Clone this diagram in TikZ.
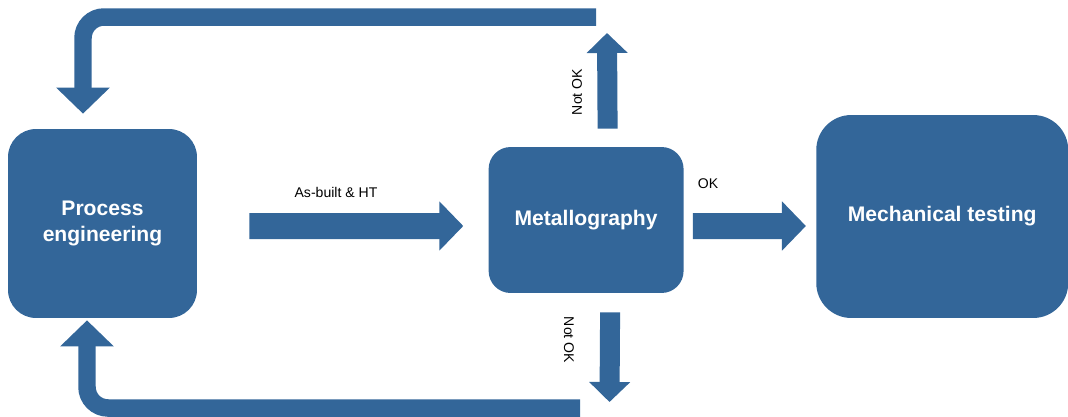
\documentclass[tikz,border=0pt]{standalone}
\usepackage{fontspec}
\setmainfont{Liberation Sans}
\usetikzlibrary{arrows.meta,positioning,calc}
\definecolor{steel}{HTML}{336699}
\tikzset{stage/.style={fill=steel,align=center,text=white,font=\bfseries\fontsize{12}{15.3}\selectfont,inner sep=0pt},fat/.style={-{Triangle[width=0.96cm,length=0.48cm]},line width=0.52cm,draw=steel},slim/.style={-{Triangle[width=0.8cm,length=0.4cm]},line width=0.4cm,draw=steel},backflow/.style={-{Triangle[width=1.04cm,length=0.52cm]},line width=0.35cm,draw=steel,rounded corners=0.42cm},flowlabel/.style={font=\fontsize{8}{10}\selectfont,inner sep=0pt}}

\begin{document}
\begin{tikzpicture}[x=0.02cm,y=-0.02cm]
\useasboundingbox (0,0) rectangle (1068,416);
\node[stage,minimum width=3.78cm,minimum height=3.78cm,rounded corners=0.56cm] (pe) at (102.5,223.5) {Process\\engineering};
\node[stage,minimum width=3.9cm,minimum height=2.92cm,rounded corners=0.44cm,right=5.82cm of pe,yshift=0.07cm] (met) {Metallography};
\node[stage,minimum width=5.04cm,minimum height=4.06cm,rounded corners=0.7cm,right=2.64cm of met,yshift=0.07cm] (mt) {Mechanical testing};
\coordinate (topstart) at (596,17);
\coordinate (botstart) at (580,408);
\coordinate (upend) at (607,33);
\coordinate (downend) at (609.5,402);
\draw[fat] ($(pe.east)+(52,2.5)$) -- ($(met.west)+(-25,6)$);
\draw[fat] ($(met.east)+(9,6)$) -- ($(mt.west)+(-10,9.5)$);
\draw[slim] ($(met.north)+(21.5,-18)$) -- (upend);
\draw[slim] ($(met.south)+(24,19)$) -- (downend);
\draw[backflow] (topstart) -| ($(pe.north)+(-19.5,-15)$);
\draw[backflow] (botstart) -| ($(pe.south)+(-15.5,2)$);
\node[flowlabel] (asbuilt) at (336,192) {As-built \& HT};
\node[flowlabel] (ok) at (708,184) {OK};
\node[flowlabel,rotate=90] (notokup) at (577,92) {Not OK};
\node[flowlabel,rotate=-90] (notokdown) at (569,340) {Not OK};
\end{tikzpicture}
\end{document}
